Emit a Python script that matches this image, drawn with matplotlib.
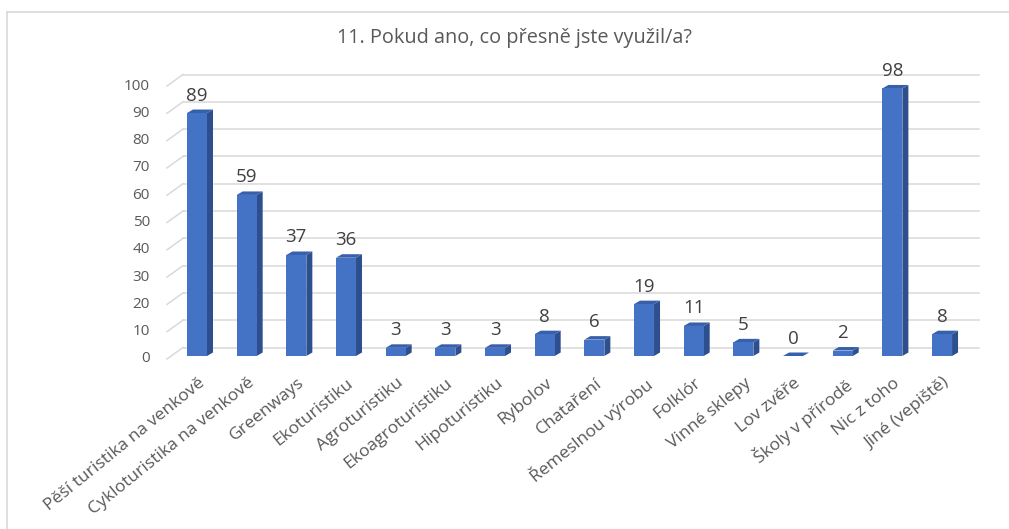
import matplotlib
matplotlib.use("Agg")
import matplotlib.pyplot as plt
from matplotlib.lines import Line2D
from matplotlib.patches import Polygon, Rectangle

categories = ["Pěší turistika na venkově", "Cykloturistika na venkově", "Greenways",
              "Ekoturistiku", "Agroturistiku", "Ekoagroturistiku", "Hipoturistiku",
              "Rybolov", "Chataření", "Řemeslnou výrobu", "Folklór", "Vinné sklepy",
              "Lov zvěře", "Školy v přírodě", "Nic z toho", "Jiné (vepiště)"]
counts = [89, 59, 37, 36, 3, 3, 3, 8, 6, 19, 11, 5, 0, 2, 98, 8]
yticks = [0, 10, 20, 30, 40, 50, 60, 70, 80, 90, 100]
title = "11. Pokud ano, co přesně jste využil/a?"

FONT = "Open Sans"
TXT = "#595959"
FRONT, SIDE, TOP = "#4472c4", "#2e4f8d", "#3760ab"
GRID = "#d9d9d9"

W, H = 1009, 529
# pixel mapping of the bar front plane
X0, DX = 197.0, 49.67
Y0, DY = 356.0, 2.73
xlim = (-0.62, 15.8)
ylim = (-3, 108)

fig = plt.figure(figsize=(W / 100, H / 100), dpi=100)
left = X0 + xlim[0] * DX
right = X0 + xlim[1] * DX
top = Y0 - ylim[1] * DY
bottom = Y0 - ylim[0] * DY
ax = fig.add_axes([left / W, 1 - bottom / H, (right - left) / W, (bottom - top) / H])
ax.set_xlim(*xlim)
ax.set_ylim(*ylim)
ax.axis("off")

# walls: front plane / back plane offsets relative to the bars
fx, fy = -4.2 / DX, -3.0 / DY
bx, by = 11.8 / DX, 8.5 / DY
wall_x = -0.604
wall_end = 15.74
for t in yticks:
    ax.plot([wall_x, wall_x + bx - fx], [t + fy, t + by], color=GRID, lw=1.1, zorder=1)
    ax.plot([wall_x + bx - fx, wall_end], [t + by, t + by], color=GRID, lw=1.1, zorder=1)
    ax.text(wall_x - 17 / DX, t + fy, str(t), ha="right", va="center",
            fontsize=11, color=TXT, family=FONT)

w = 20 / DX
ddx, ddy = 6 / DX, 3.5 / DY
for i, (lab, v) in enumerate(zip(categories, counts)):
    x1, x2 = i - w / 2, i + w / 2
    ax.add_patch(Polygon([(x2, 0), (x2 + ddx, ddy), (x2 + ddx, v + ddy), (x2, v)],
                         closed=True, fc=SIDE, ec="none", zorder=3))
    ax.add_patch(Polygon([(x1, v), (x2, v), (x2 + ddx, v + ddy), (x1 + ddx, v + ddy)],
                         closed=True, fc=TOP, ec="none", zorder=3))
    ax.add_patch(Rectangle((x1, 0), w, v, fc=FRONT, ec="none", zorder=4))
    ax.annotate(str(v), (i, v), xytext=(0, 9), textcoords="offset points",
                ha="center", va="baseline", fontsize=13.5, color="#404040", family=FONT)
    ax.text(i + 0.01, -19 / DY, lab, rotation=39, rotation_mode="anchor",
            ha="right", va="top", fontsize=12.6, color=TXT, family=FONT, clip_on=False)

fig.text(514 / W, 1 - 38 / H, title, ha="center", va="center",
         fontsize=14.3, color=TXT, family=FONT)

# chart frame (top and left edges visible)
fig.add_artist(Line2D([7 / W, 1], [1 - 12 / H, 1 - 12 / H], color=GRID, lw=1.2))
fig.add_artist(Line2D([7 / W, 7 / W], [0, 1 - 12 / H], color=GRID, lw=1.2))

fig.savefig("out.png", dpi=100)
